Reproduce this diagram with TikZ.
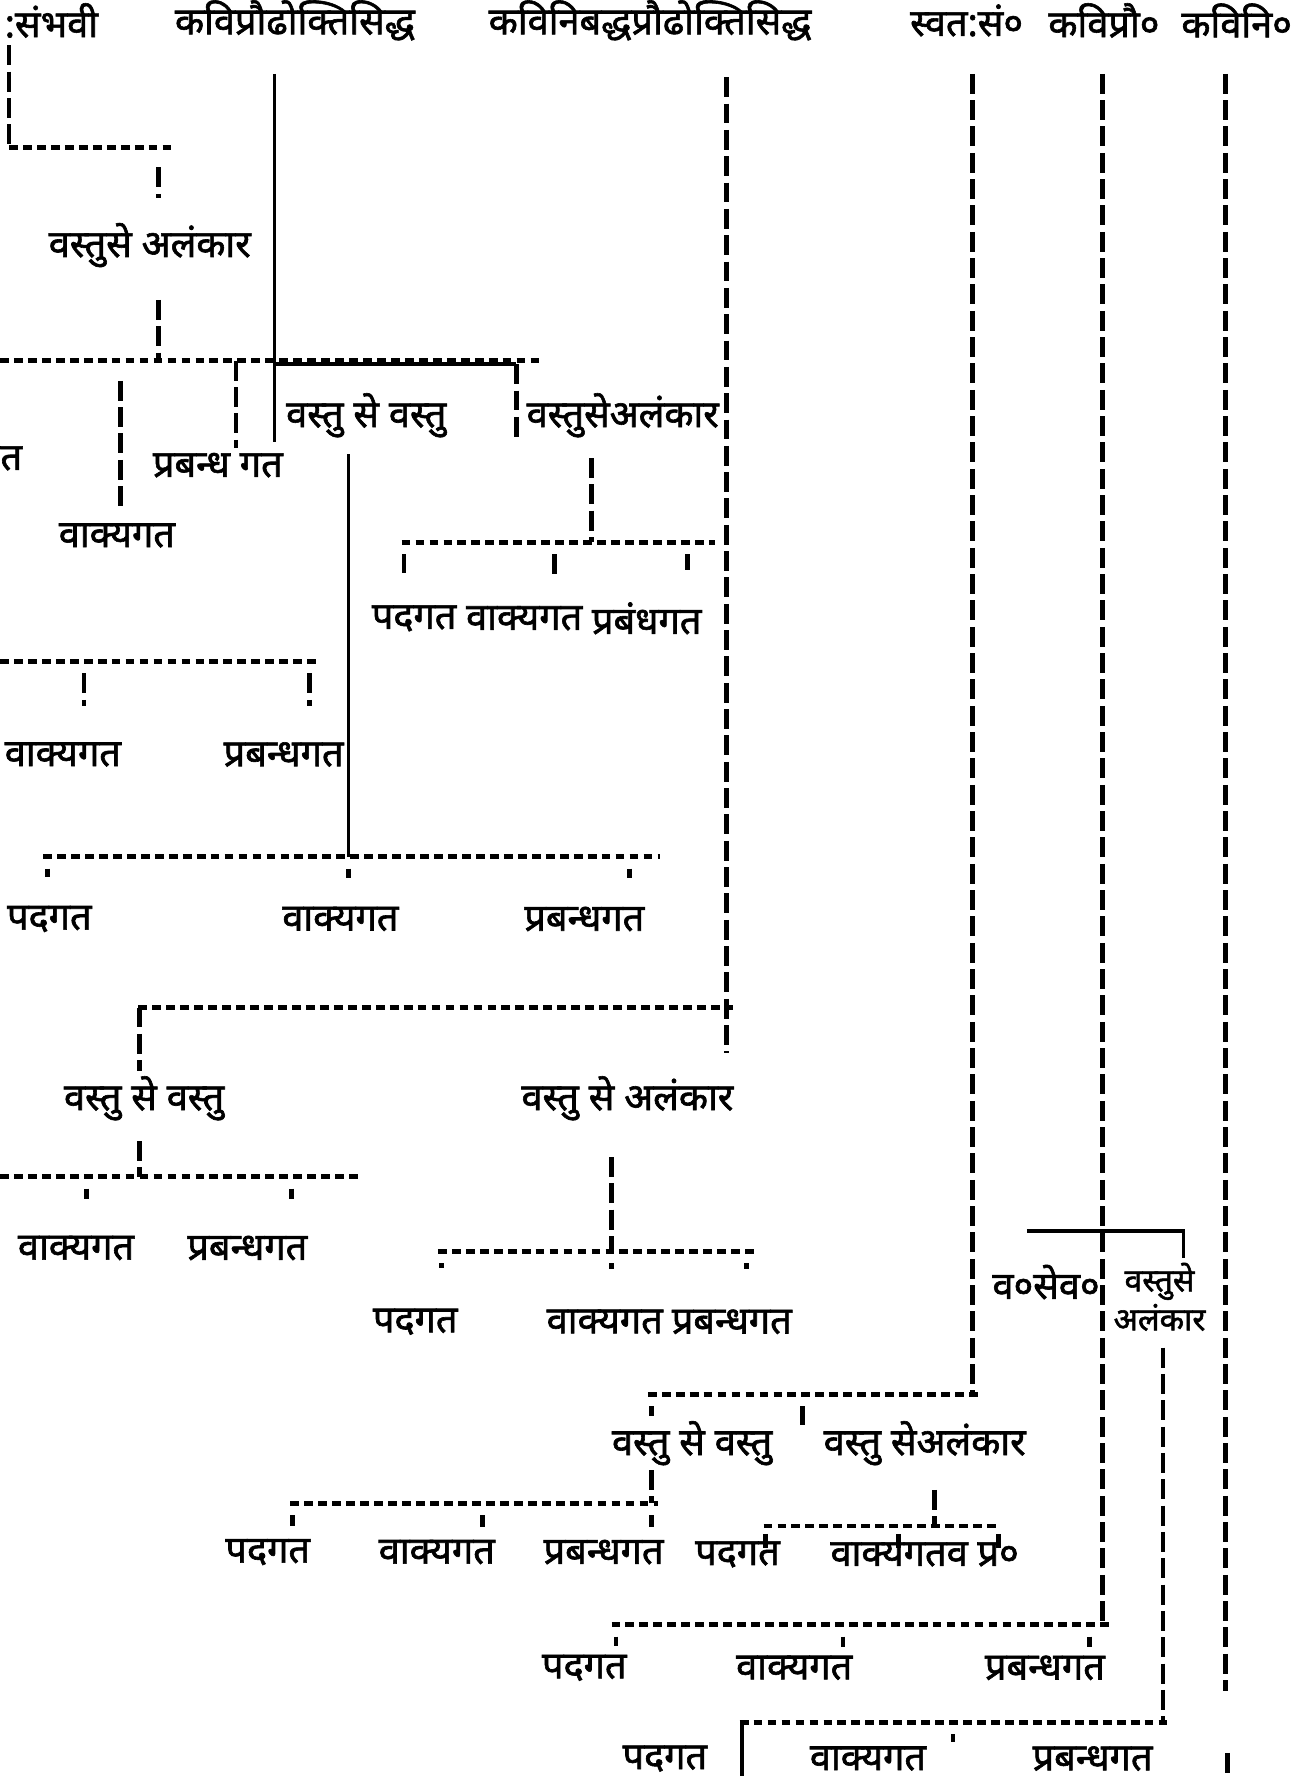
\documentclass[tikz,border=0pt]{standalone}
\usepackage{fontspec}
\newfontfamily\dev[Script=Devanagari, FakeBold=1.6]{Noto Sans}
\tikzset{
	lbl/.style={font=\dev\fontsize{9.5}{10}\selectfont, inner sep=1pt},
	hbar/.style={line width=1.2pt, dash pattern=on 2.2pt off 1.3pt},
	vbar/.style={line width=1.2pt, dash pattern=on 5pt off 1.6pt},
	pen/.style={line width=0.9pt},
}
\begin{document}
\begin{tikzpicture}[x=0.01cm, y=-0.01cm]
	\useasboundingbox (0,0) rectangle (1145,1568);
	\clip (0,0) rectangle (1145,1568);
	% top row
	\node[lbl, anchor=west] (sambhavi) at (0,18) {:संभवी};
	\node[lbl] (kpsiddha) at (260,18) {कविप्रौढोक्तिसिद्ध};
	\node[lbl] (knsiddha) at (573,18) {कविनिबद्धप्रौढोक्तिसिद्ध};
	\node[lbl] (svatah) at (852,18) {स्वत:सं०};
	\node[lbl] (kavipra) at (973,18) {कविप्रौ०};
	\node[lbl] (kavini) at (1090,18) {कविनि०};
	\coordinate (sTop) at (8,40);
	\coordinate (sBar) at (8,130);
	\coordinate (sBarE) at (153,130);
	\coordinate (kpTop) at (242,65);
	\coordinate (knTop) at (640,68);
	\coordinate (knBot) at (640,928);
	\coordinate (svTop) at (857,65);
	\coordinate (kvTop) at (972,65);
	\coordinate (kniTop) at (1080,65);
	\coordinate (kniBot) at (1080,1490);
	\coordinate (kniEnd) at (1082,1545);

	% svatah sambhavi
	\draw[vbar] (sTop) -- (sBar);
	\draw[hbar] (sBar) -- (sBarE);
	\node[lbl] (vsAlk1) at (132,216) {वस्तुसे अलंकार};
	\coordinate (aX) at (140,130);
	\draw[vbar, shorten <=5pt, shorten >=5pt] (aX) -- (aX |- vsAlk1.north);
	\coordinate (mBarW) at (0,318);
	\coordinate (mBarE) at (480,318);
	\draw[hbar] (mBarW) -- (mBarE);
	\draw[vbar, shorten <=7pt] (aX |- vsAlk1.south) -- (aX |- mBarW);
	\node[lbl] (tCut) at (10,404) {त};
	\node[lbl] (vakya1) at (103,472) {वाक्यगत};
	\node[lbl] (prab1) at (192,410) {प्रबन्ध गत};
	\coordinate (m1) at (106,318);
	\coordinate (m2) at (208,318);
	\draw[vbar, shorten <=5pt, shorten >=3pt] (m1) -- (m1 |- vakya1.north);
	\draw[vbar] (m2) -- (m2 |- prab1.north);

	% kavipraudhoktisiddha
	\node[lbl, anchor=west] (vsv1) at (248,366) {वस्तु से वस्तु};
	\node[lbl, anchor=west] (vsAlk2) at (460,366) {वस्तुसेअलंकार};
	\draw[pen] (kpTop) -- (kpTop |- vsv1.south);
	\coordinate (mHand) at (455,321);
	\draw[pen] (kpTop |- mHand) -- (mHand);
	\draw[vbar] (mHand) -- (mHand |- vsAlk2.south);
	\coordinate (lBarW) at (38,755);
	\coordinate (lBarE) at (582,755);
	\coordinate (l2) at (307,755);
	\draw[pen, shorten <=3pt] (l2 |- vsv1.south) -- (l2);
	\draw[hbar] (lBarW) -- (lBarE);
	\coordinate (nBarW) at (354,478);
	\coordinate (nBarE) at (630,478);
	\coordinate (nX) at (521,478);
	\draw[vbar, shorten <=4pt] (nX |- vsAlk2.south) -- (nX);
	\draw[hbar] (nBarW) -- (nBarE);
	\node[lbl] (pada2) at (365,545) {पदगत};
	\node[lbl] (vakya2) at (462,545) {वाक्यगत};
	\node[lbl] (prab2) at (570,545) {प्रबंधगत};
	\foreach \x/\n in {356/pada2, 489/vakya2, 606/prab2}
		\draw[vbar, shorten <=3pt, shorten >=7pt] (\x,478) coordinate (nt) -- (nt |- \n.north);

	% left, cut off
	\coordinate (pBarW) at (0,583);
	\coordinate (pBarE) at (282,583);
	\draw[hbar] (pBarW) -- (pBarE);
	\node[lbl, anchor=west] (vakya3) at (0,665) {वाक्यगत};
	\node[lbl] (prab3) at (250,665) {प्रबन्धगत};
	\foreach \x/\n in {74/vakya3, 273/prab3}
		\draw[vbar, shorten <=3pt, shorten >=8pt] (\x,583) coordinate (pt) -- (pt |- \n.north);
	\node[lbl, anchor=west] (pada4) at (2,810) {पदगत};
	\node[lbl] (vakya4) at (300,810) {वाक्यगत};
	\node[lbl] (prab4) at (515,810) {प्रबन्धगत};
	\foreach \x/\n in {42/pada4, 307/vakya4, 555/prab4}
		\draw[vbar, shorten <=3pt, shorten >=6pt] (\x,755) coordinate (lt) -- (lt |- \n.north);

	% kavinibaddha
	\draw[vbar] (knTop) -- (knBot);
	\coordinate (qBarW) at (122,888);
	\coordinate (qBarE) at (646,888);
	\draw[hbar] (qBarW) -- (qBarE);
	\node[lbl] (vsv2) at (127,968) {वस्तु से वस्तु};
	\node[lbl] (vsAlk3) at (553,968) {वस्तु से अलंकार};
	\coordinate (q1) at (123,888);
	\draw[vbar] (q1) -- (q1 |- vsv2.north);
	\coordinate (rBarW) at (0,1037);
	\coordinate (rBarE) at (318,1037);
	\draw[vbar, shorten <=4pt] (q1 |- vsv2.south) -- (q1 |- rBarW);
	\draw[hbar] (rBarW) -- (rBarE);
	\node[lbl] (vakya5) at (67,1100) {वाक्यगत};
	\node[lbl] (prab5) at (218,1100) {प्रबन्धगत};
	\foreach \x/\n in {76/vakya5, 257/prab5}
		\draw[vbar, shorten <=3pt, shorten >=8pt] (\x,1037) coordinate (rt) -- (rt |- \n.north);
	\coordinate (sBar2) at (539,1103);
	\draw[vbar, shorten <=8pt] (sBar2 |- vsAlk3.south) -- (sBar2);
	\coordinate (sBarW) at (386,1103);
	\coordinate (sBarE2) at (667,1103);
	\draw[hbar] (sBarW) -- (sBarE2);
	\node[lbl] (pada6) at (366,1165) {पदगत};
	\node[lbl] (vakya6) at (533,1165) {वाक्यगत};
	\node[lbl] (prab6) at (645,1165) {प्रबन्धगत};
	\foreach \x/\n in {389/pada6, 539/vakya6, 658/prab6}
		\draw[vbar, shorten <=3pt, shorten >=9pt] (\x,1103) coordinate (st) -- (st |- \n.north);

	% svatah sambhavi (right)
	\coordinate (tBarW) at (571,1229);
	\coordinate (tBarE) at (863,1229);
	\draw[vbar] (svTop) -- (svTop |- tBarE);
	\draw[hbar] (tBarW) -- (tBarE);
	\node[lbl] (vsv3) at (610,1272) {वस्तु से वस्तु};
	\node[lbl] (vsAlk4) at (815,1272) {वस्तु सेअलंकार};
	\coordinate (t1) at (574,1229);
	\coordinate (t2) at (707,1229);
	\coordinate (t2e) at (707,1256);
	\draw[vbar, shorten <=3pt] (t1) -- (t1 |- vsv3.north);
	\draw[vbar, shorten <=3pt] (t2) -- (t2e);
	\coordinate (uBarW) at (256,1325);
	\coordinate (uBarE) at (580,1325);
	\draw[vbar] (t1 |- vsv3.south) -- (t1 |- uBarE);
	\draw[hbar] (uBarW) -- (uBarE);
	\node[lbl] (pada7) at (236,1368) {पदगत};
	\node[lbl] (vakya7) at (385,1368) {वाक्यगत};
	\node[lbl] (prab7) at (532,1368) {प्रबन्धगत};
	\foreach \x/\n in {258/pada7, 425/vakya7, 574/prab7}
		\draw[vbar, shorten <=3pt, shorten >=2pt] (\x,1325) coordinate (ut) -- (ut |- \n.north);
	\coordinate (vX) at (824,1345);
	\coordinate (vBarW) at (673,1345);
	\coordinate (vBarE) at (880,1345);
	\draw[vbar, shorten <=5pt] (vX |- vsAlk4.south) -- (vX);
	\draw[hbar] (vBarW) -- (vBarE);
	\node[lbl] (pada8) at (650,1370) {पदगत};
	\node[lbl] (vakya8) at (815,1370) {वाक्यगतव प्र०};
	\foreach \x in {675, 792, 880}
		\draw[vbar, shorten <=2pt] (\x,1345) -- (\x,1364);

	% kavipraudhokti (right)
	\coordinate (wBarW) at (539,1432);
	\coordinate (wBarE) at (978,1432);
	\draw[vbar] (kvTop) -- (kvTop |- wBarE);
	\draw[hbar] (wBarW) -- (wBarE);
	\node[lbl] (pada9) at (515,1470) {पदगत};
	\node[lbl] (vakya9) at (700,1470) {वाक्यगत};
	\node[lbl] (prab9) at (921,1470) {प्रबन्धगत};
	\foreach \x/\n in {543/pada9, 743/vakya9, 960/prab9}
		\draw[vbar, shorten <=3pt, shorten >=1pt] (\x,1432) coordinate (wt) -- (wt |- \n.north);
	\node[lbl] (vsev) at (922,1130) {व०सेव०};
	\node[lbl, align=center, font=\dev\fontsize{8}{7.5}\selectfont] (vsAlk5) at (1022,1143) {वस्तुसे\\अलंकार};
	\coordinate (hW) at (905,1085);
	\coordinate (hE) at (1043,1085);
	\draw[pen] (hW) -- (hE) -- (hE |- vsAlk5.north);
	\coordinate (xBarW) at (652,1518);
	\coordinate (xBarE) at (1030,1518);
	\coordinate (xX) at (1025,1518);
	\draw[vbar, shorten <=3pt] (xX |- vsAlk5.south) -- (xX);
	\draw[hbar] (xBarW) -- (xBarE);
	\node[lbl] (pada10) at (586,1550) {पदगत};
	\node[lbl] (vakya10) at (765,1550) {वाक्यगत};
	\node[lbl] (prab10) at (963,1550) {प्रबन्धगत};
	\coordinate (x1) at (654,1518);
	\coordinate (x2) at (840,1518);
	\draw[pen] (x1) -- (x1 |- pada10.south);
	\draw[vbar, shorten <=3pt] (x2) -- (x2 |- vakya10.north);

	% kavinibaddha (right)
	\draw[vbar] (kniTop) -- (kniBot);
	\draw[vbar] (kniEnd) -- (kniEnd |- pada10.south);
\end{tikzpicture}
\end{document}
